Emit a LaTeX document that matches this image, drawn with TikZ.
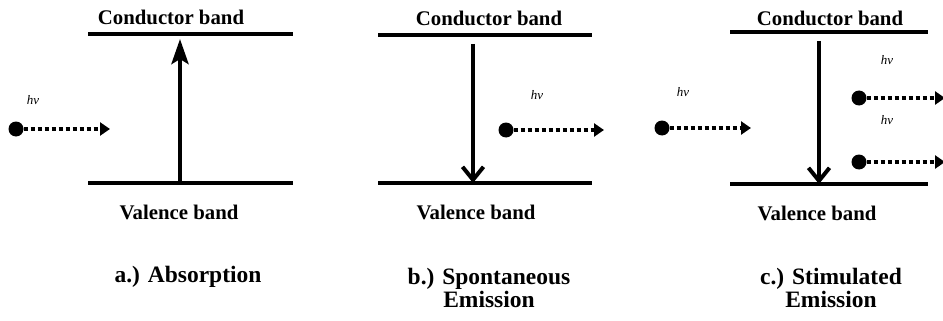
\documentclass[tikz,border=0pt]{standalone}
\usepackage{fontspec}
\setmainfont{Liberation Serif}
\usetikzlibrary{arrows.meta}

\tikzset{
    band/.style={line width=4.5pt},
    bandlabel/.style={font=\fontsize{20.8}{24}\selectfont\bfseries,inner sep=0pt},
    caption/.style={font=\fontsize{23.5}{20}\selectfont\bfseries,align=center,inner sep=0pt},
    hvlabel/.style={font=\fontsize{13}{14}\selectfont\itshape,inner sep=0pt},
    photon/.style={circle,fill,inner sep=0pt,minimum size=15pt},
    photonray/.style={line width=4pt,dash pattern=on 4pt off 3pt,
        -{Triangle[length=10pt,width=13pt]}},
    upjump/.style={line width=4.5pt,-{Stealth[length=25pt,width=17pt,inset=5pt]}},
    downjump/.style={line width=3.5pt,-{Straight Barb[length=13pt,width=21pt,line width=4pt]}}
}

\begin{document}
\begin{tikzpicture}[x=1pt,y=-1pt]
            \useasboundingbox[fill=white] (0,0) rectangle (943,321);

            % conductor and valence bands
            \foreach \n/\xa/\xb/\yt/\yb in {a/88/293/34/183,b/378/592/35/183,c/730/928/32/184}{
                \coordinate (cl\n) at (\xa,\yt);
                \coordinate (cr\n) at (\xb,\yt);
                \coordinate (vl\n) at (\xa,\yb);
                \coordinate (vr\n) at (\xb,\yb);
                \draw[band] (cl\n) -- (cr\n);
                \draw[band] (vl\n) -- (vr\n);
            }

            \node[bandlabel] (conda) at (171,17) {Conductor band};
            \node[bandlabel] (condb) at (489,18) {Conductor band};
            \node[bandlabel] (condc) at (830,18) {Conductor band};

            \node[bandlabel] (vala) at (179,212) {Valence band};
            \node[bandlabel] (valb) at (476,212) {Valence band};
            \node[bandlabel] (valc) at (817,213) {Valence band};

            % a.) absorption
            \coordinate (jumpa0) at (180,183);
            \coordinate (jumpa1) at (180,39);
            \draw[upjump] (jumpa0) -- (jumpa1);

            \node[hvlabel] (hva) at (33,100) {hν};
            \node[photon] (pha) at (16,129) {};
            \coordinate (pha1) at (110,129);
            \draw[photonray] (pha) -- (pha1);

            % b.) spontaneous emission
            \coordinate (jumpb0) at (473,44);
            \coordinate (jumpb1) at (473,183);
            \draw[downjump] (jumpb0) -- (jumpb1);

            \node[hvlabel] (hvb) at (537,95) {hν};
            \node[photon] (phb) at (506,130) {};
            \coordinate (phb1) at (604,130);
            \draw[photonray] (phb) -- (phb1);

            % c.) stimulated emission
            \coordinate (jumpc0) at (819,41);
            \coordinate (jumpc1) at (819,184);
            \draw[downjump] (jumpc0) -- (jumpc1);

            \node[hvlabel] (hvc) at (683,92) {hν};
            \node[photon] (phc) at (662,128) {};
            \coordinate (phc1) at (751,128);
            \draw[photonray] (phc) -- (phc1);

            \node[hvlabel] (hvc1) at (887,60) {hν};
            \node[photon] (phc2) at (859,98) {};
            \coordinate (phc3) at (945,98);
            \draw[photonray] (phc2) -- (phc3);

            \node[hvlabel] (hvc2) at (887,120) {hν};
            \node[photon] (phc4) at (859,162) {};
            \coordinate (phc5) at (945,162);
            \draw[photonray] (phc4) -- (phc5);

            % captions
            \node[caption] (capa) at (188,277) {a.) Absorption};
            \node[caption] (capb) at (489,288) {b.) Spontaneous\\Emission};
            \node[caption] (capc) at (831,288) {c.) Stimulated\\Emission};
\end{tikzpicture}
\end{document}
